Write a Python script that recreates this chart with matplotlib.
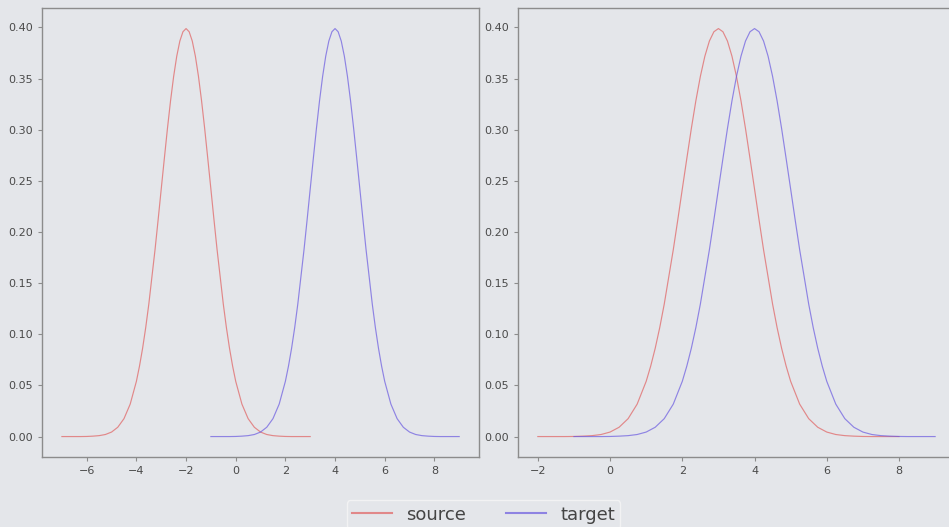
import numpy as np
import matplotlib
matplotlib.use("Agg")
from matplotlib import pyplot as plt

# density profile, offsets from each curve's peak
curve_offsets = [-5.0, -4.75, -4.5, -4.25, -4.0, -3.75, -3.5, -3.25, -3.0, -2.75,
                 -2.5, -2.25, -2.0, -1.875, -1.75, -1.625, -1.5, -1.375, -1.25, -1.125,
                 -1.0, -0.875, -0.75, -0.625, -0.5, -0.375, -0.25, -0.125,
                 0.0, 0.125, 0.25, 0.375, 0.5, 0.625, 0.75, 0.875,
                 1.0, 1.125, 1.25, 1.375, 1.5, 1.625, 1.75, 1.875, 2.0, 2.25,
                 2.5, 2.75, 3.0, 3.25, 3.5, 3.75, 4.0, 4.25, 4.5, 4.75, 5.0]
curve_density = [0.0, 0.0, 0.0, 0.0, 0.0001, 0.0004, 0.0009, 0.002, 0.0044, 0.0091,
                 0.0175, 0.0317, 0.054, 0.0689, 0.0863, 0.1065, 0.1295, 0.1561, 0.1826, 0.2119,
                 0.242, 0.2718, 0.3011, 0.3282, 0.3521, 0.3719, 0.3867, 0.3958,
                 0.3989, 0.3958, 0.3867, 0.3719, 0.3521, 0.3282, 0.3011, 0.2718,
                 0.242, 0.2119, 0.1826, 0.1561, 0.1295, 0.1065, 0.0863, 0.0689, 0.054, 0.0317,
                 0.0175, 0.0091, 0.0044, 0.002, 0.0009, 0.0004, 0.0001, 0.0, 0.0, 0.0, 0.0]

source_peaks = [-2, 3]   # left panel, right panel
target_peak = 4
left_xticks = [-6, -4, -2, 0, 2, 4, 6, 8]
right_xticks = [-2, 0, 2, 4, 6, 8]
yticks = [0.0, 0.05, 0.10, 0.15, 0.20, 0.25, 0.30, 0.35, 0.40]

bg = "#e4e6ea"
fig = plt.figure(figsize=(9.49, 5.27), dpi=100, facecolor=bg)
ax1 = fig.add_axes([0.0443, 0.1328, 0.4605, 0.852])
ax2 = fig.add_axes([0.5458, 0.1328, 0.4605, 0.852])

offs = np.array(curve_offsets)
for ax, mu, xt in [(ax1, source_peaks[0], left_xticks), (ax2, source_peaks[1], right_xticks)]:
    ax.set_facecolor(bg)
    ax.plot(offs + mu, curve_density, color="#e06060", alpha=0.7, lw=0.85, label="source")
    ax.plot(offs + target_peak, curve_density, color="#6a5ae0", alpha=0.7, lw=0.85, label="target")
    ax.set_xticks(xt)
    ax.set_yticks(yticks)
    ax.set_ylim(-0.02, 0.419)
    for s in ax.spines.values():
        s.set_color("#8c8c8c")
        s.set_linewidth(1.0)
    ax.tick_params(colors="#8c8c8c", labelcolor="#4a4a4a", labelsize=8, length=3)

ax1.set_xlim(-7.8, 9.8)
ax2.set_xlim(-2.55, 9.55)

h, l = ax1.get_legend_handles_labels()
leg = fig.legend(h, l, loc="upper center", bbox_to_anchor=(0.5095, 0.068), ncol=2,
                 fontsize=13, frameon=True, handlelength=2.2, columnspacing=2.2,
                 borderpad=0.3, labelcolor="#444444")
leg.get_frame().set_facecolor(bg)
leg.get_frame().set_edgecolor("#f6f6f6")
for line in leg.get_lines():
    line.set_linewidth(1.5)

fig.savefig("out.png", dpi=100, facecolor=bg)
